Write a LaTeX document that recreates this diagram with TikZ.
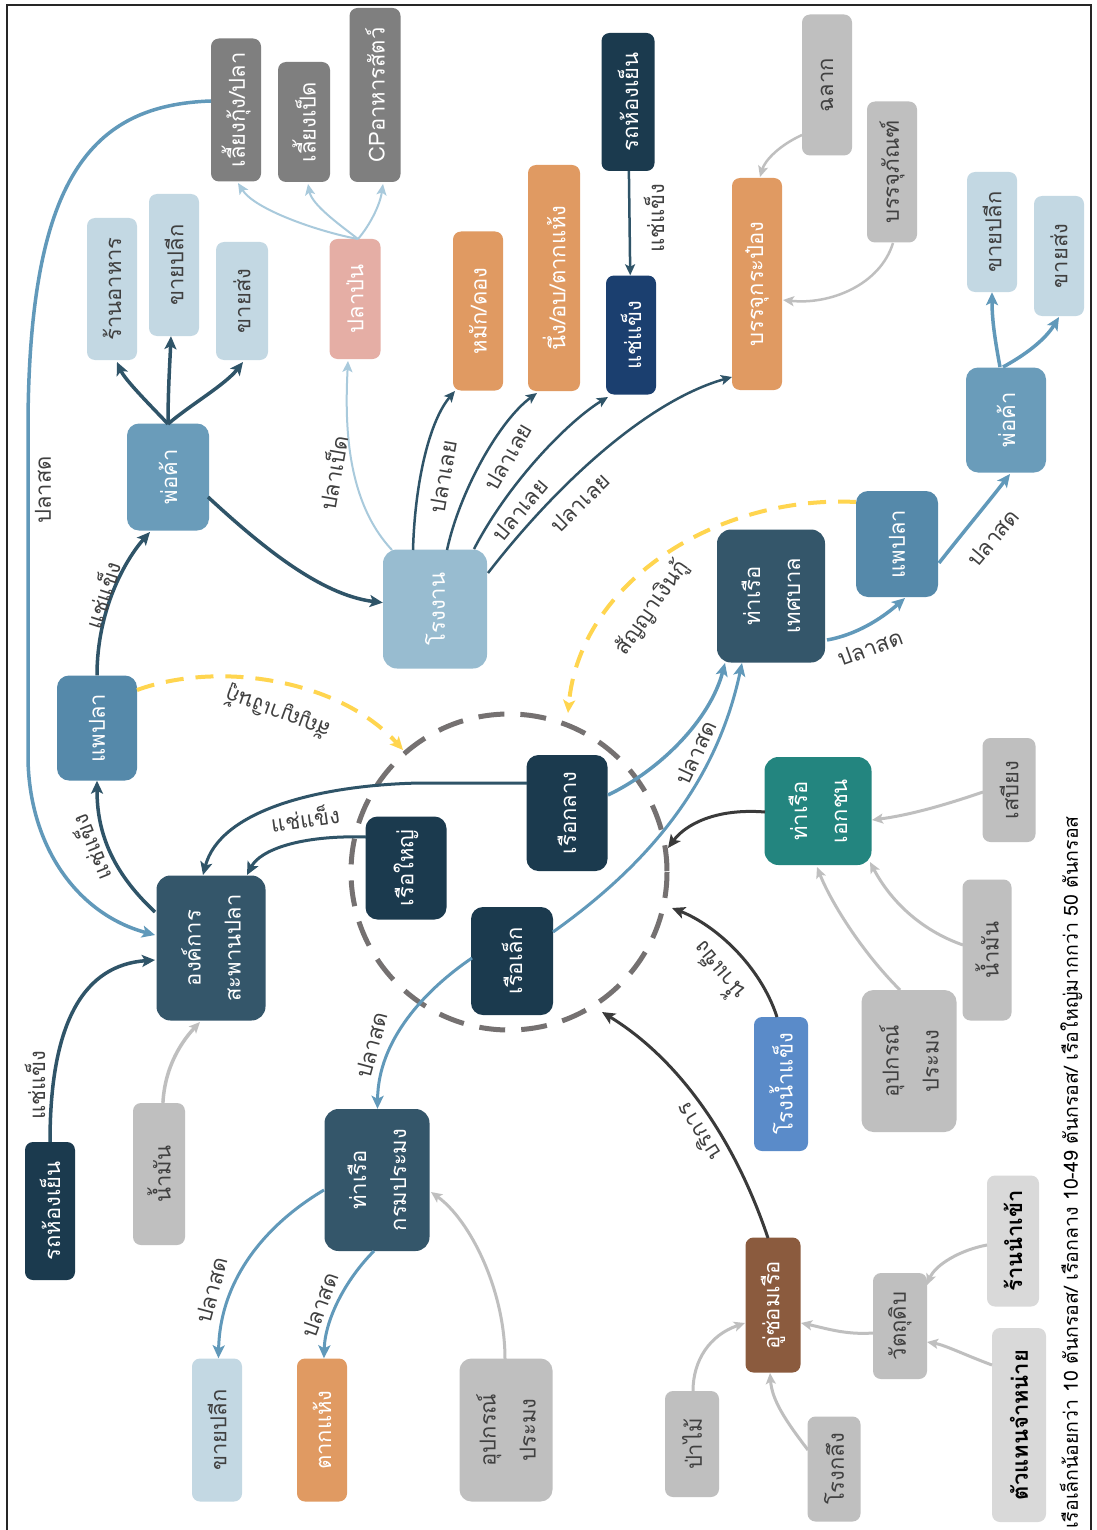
\documentclass[tikz,border=0pt]{standalone}
\usepackage{fontspec}
\setmainfont[Script=Thai]{Loma}
\newfontfamily\thai[Script=Thai]{Loma}
\usetikzlibrary{arrows.meta,calc}
\newcommand\myNodeFont{\thai\fontsize{22}{40}\selectfont}
\newcommand\myLblFont{\thai\fontsize{22}{26}\selectfont}
\newcommand\myFootFont{\thai\fontsize{19.5}{22}\selectfont}
\definecolor{cSlate}{HTML}{34566A}
\definecolor{cNavy}{HTML}{1B3A4E}
\definecolor{cFreeze}{HTML}{1B3F6F}
\definecolor{cPho}{HTML}{6A9CBA}
\definecolor{cPae}{HTML}{5589AA}
\definecolor{cLight}{HTML}{C3D8E3}
\definecolor{cFactory}{HTML}{98BCD0}
\definecolor{cOrange}{HTML}{E09A62}
\definecolor{cPink}{HTML}{E5AEA5}
\definecolor{cGrayD}{HTML}{7F7F7F}
\definecolor{cGrayL}{HTML}{BFBFBF}
\definecolor{cGrayLL}{HTML}{D9D9D9}
\definecolor{cTeal}{HTML}{23857F}
\definecolor{cIce}{HTML}{5A8BC9}
\definecolor{cBrown}{HTML}{8B5B3E}
\definecolor{eDark}{HTML}{2F5468}
\definecolor{eBlue}{HTML}{6199BA}
\definecolor{eLight}{HTML}{A9CADC}
\definecolor{eGray}{HTML}{BFBFBF}
\definecolor{eBlack}{HTML}{3A3A3A}
\definecolor{cYellow}{HTML}{FFD54F}
\definecolor{cCirc}{HTML}{757171}
\definecolor{tDark}{HTML}{404040}
\tikzset{
  box/.style={rounded corners=8pt, rotate=90, align=center, inner sep=1pt, font=\myNodeFont},
  sz/.style 2 args={minimum height=#1pt, minimum width=#2pt},
  wt/.style={text=white},
  dk/.style={text=tDark},
  lbl/.style={font=\myLblFont, text=tDark, inner sep=1pt},
  tip/.style={-{Stealth[length=13pt,width=12pt,inset=3pt]}},
  tips/.style={-{Stealth[length=11pt,width=10pt,inset=2.5pt]}},
  ed/.style={draw=eDark, line width=3.5pt, tip},
  edt/.style={draw=eDark, line width=2.5pt, tips},
  eb/.style={draw=eBlue, line width=3.5pt, tip},
  el/.style={draw=eLight, line width=2pt, tips},
  eg/.style={draw=eGray, line width=3pt, tips},
  ek/.style={draw=eBlack, line width=3pt, tip},
  ey/.style={draw=cYellow, line width=4pt, dash pattern=on 18pt off 12pt, -{Stealth[length=13pt,width=12pt,inset=3pt]}}
}
\begin{document}
\begin{tikzpicture}[x=1pt,y=-1pt]
\useasboundingbox (0,0) rectangle (1096,1530);
\fill[white] (0,0) rectangle (1096,1530);
\draw[line width=1.2pt, black!85] (7,1530) -- (7,5) -- (1091,5) -- (1091,1530);

% dashed circle of boats
\draw[cCirc, line width=5pt, dash pattern=on 26pt off 16pt] (509,872) circle[radius=158];
\coordinate (cP) at (668,848);
\coordinate (cI) at (672,908);
\coordinate (cD) at (602,1012);
\coordinate (yR) at (568,713);
\coordinate (yL) at (403,750);

% ---------- nodes ----------
\node[box, fill=cGrayD, wt, sz={50}{143}] (lieng) at (236,110) {เลี้ยงกุ้ง/ปลา};
\node[box, fill=cGrayD, wt, sz={52}{120}] (duck) at (304,122) {เลี้ยงเป็ด};
\node[box, fill=cGrayD, wt, sz={51}{174}] (cp) at (375,95) {CPอาหารสัตว์};
\node[box, fill=cLight, dk, sz={50}{142}] (rest) at (112,289) {ร้านอาหาร};
\node[box, fill=cLight, dk, sz={50}{142}] (retailA) at (174,265) {ขายปลีก};
\node[box, fill=cLight, dk, sz={52}{118}] (wholeA) at (242,301) {ขายส่ง};
\node[box, fill=cPink, wt, sz={51}{120}] (plapon) at (355,299) {ปลาป่น};
\node[box, rounded corners=12pt, fill=cPho, wt, sz={82}{107}] (phoA) at (168,477) {พ่อค้า};
\node[box, rounded corners=12pt, fill=cPae, wt, sz={80}{105}] (paeA) at (97,728) {แพปลา};
\node[box, rounded corners=14pt, fill=cFactory, wt, sz={104}{119}] (factory) at (435,609) {โรงงาน};
\node[box, fill=cOrange, wt, sz={50}{159}] (ferment) at (478,311) {หมัก/ดอง};
\node[box, fill=cOrange, wt, sz={52}{226}] (steam) at (554,278) {นึ่ง/อบ/ตากแห้ง};
\node[box, fill=cNavy, wt, sz={53}{138}] (coldT) at (628,102) {รถห้องเย็น};
\node[box, fill=cFreeze, wt, sz={50}{119}] (freeze) at (631,335) {แช่แข็ง};
\node[box, fill=cOrange, wt, sz={50}{212}] (can) at (757,284) {บรรจุกระป๋อง};
\node[box, fill=cGrayL, dk, sz={50}{141}] (labelbox) at (827,85) {ฉลาก};
\node[box, fill=cGrayL, dk, sz={50}{141}] (pack) at (892,172) {บรรจุภัณฑ์};
\node[box, fill=cLight, dk, sz={50}{120}] (retailB) at (992,232) {ขายปลีก};
\node[box, fill=cLight, dk, sz={50}{120}] (wholeB) at (1059,256) {ขายส่ง};
\node[box, rounded corners=12pt, fill=cPho, wt, sz={80}{105}] (phoB) at (1006,420) {พ่อค้า};
\node[box, rounded corners=12pt, fill=cPae, wt, sz={82}{106}] (paeB) at (897,544) {แพปลา};
\node[box, rounded corners=14pt, fill=cSlate, wt, sz={108}{133}] (terminal) at (771,596) {ท่าเรือ\\เทศบาล};
\node[box, rounded corners=12pt, fill=cNavy, wt, sz={81}{116}] (boatM) at (567,813) {เรือกลาง};
\node[box, rounded corners=12pt, fill=cNavy, wt, sz={81}{103}] (boatL) at (406,868) {เรือใหญ่};
\node[box, rounded corners=12pt, fill=cNavy, wt, sz={82}{108}] (boatS) at (512,961) {เรือเล็ก};
\node[box, rounded corners=14pt, fill=cTeal, wt, sz={107}{108}] (portP) at (818,811) {ท่าเรือ\\เอกชน};
\node[box, fill=cGrayL, dk, sz={53}{104}] (ration) at (1009,790) {เสบียง};
\node[box, fill=cGrayL, dk, sz={49}{141}] (oilR) at (987,950) {น้ำมัน};
\node[box, rounded corners=12pt, fill=cGrayL, dk, sz={95}{142}] (gearR) at (909,1061) {อุปกรณ์\\ประมง};
\node[box, fill=cIce, wt, sz={54}{134}] (ice) at (781,1084) {โรงน้ำแข็ง};
\node[box, rounded corners=14pt, fill=cSlate, wt, sz={109}{145}] (org) at (211,948) {องค์การ\\สะพานปลา};
\node[box, fill=cNavy, wt, sz={50}{138}] (coldB) at (50,1211) {รถห้องเย็น};
\node[box, fill=cGrayL, dk, sz={52}{142}] (oilL) at (159,1174) {น้ำมัน};
\node[box, rounded corners=14pt, fill=cSlate, wt, sz={105}{142}] (portG) at (377,1180) {ท่าเรือ\\กรมประมง};
\node[box, fill=cLight, dk, sz={50}{143}] (retailC) at (217,1430) {ขายปลีก};
\node[box, fill=cOrange, wt, sz={50}{143}] (dry) at (322,1430) {ตากแห้ง};
\node[box, rounded corners=12pt, fill=cGrayL, dk, sz={93}{143}] (gearB) at (506,1430) {อุปกรณ์\\ประมง};
\node[box, fill=cGrayL, dk, sz={54}{106}] (forest) at (692,1444) {ป่าไม้};
\node[box, fill=cBrown, wt, sz={55}{135}] (dock) at (773,1305) {อู่ซ่อมเรือ};
\node[box, fill=cGrayL, dk, sz={53}{105}] (lathe) at (834,1469) {โรงกลึง};
\node[box, fill=cGrayL, dk, sz={54}{106}] (raw) at (900,1326) {วัตถุดิบ};
\node[box, fill=cGrayLL, text=black, sz={52}{131}, font=\myNodeFont\bfseries] (import) at (1013,1241) {ร้านนำเข้า};
\node[box, fill=cGrayLL, text=black, sz={54}{194}, font=\myNodeFont\bfseries] (dealer) at (1019,1425) {ตัวแทนจำหน่าย};

\node[font=\myFootFont, text=black, rotate=90, anchor=west, inner sep=0pt] (foot) at (1071,1529) {เรือเล็กน้อยกว่า 10 ตันกรอส/ เรือกลาง 10-49 ตันกรอส/ เรือใหญ่มากกว่า 50 ตันกรอส};

% ---------- connectors ----------
\draw[eb] ($(lieng.center)+(-25,-9)$) .. controls (90,105) and (30,180) .. (28,420) -- (28,760) .. controls (30,850) and (80,915) .. ($(org.center)+(-56,-13)$);
\draw[ed] (coldB) .. controls (50,1020) and (85,965) .. ($(org.center)+(-56,12)$);
\draw[eg, line width=3.5pt] (oilL) .. controls (165,1065) and (183,1040) .. ($(org.center)+(-11,74)$);
\draw[ed] ($(org.center)+(-56,-36)$) .. controls (110,870) and (97,830) .. (paeA);
\draw[ed] (paeA) .. controls (97,610) and (125,560) .. ($(phoA.center)+(-18,55)$);
\draw[ed] ($(phoA.center)+(0,-53)$) .. controls (150,405) and (125,380) .. ($(rest.center)+(5,73)$);
\draw[ed] ($(phoA.center)+(0,-53)$) .. controls (168,390) and (170,360) .. (retailA);
\draw[ed] ($(phoA.center)+(0,-53)$) .. controls (190,405) and (225,385) .. ($(wholeA.center)+(1,61)$);
\draw[ed] ($(phoA.center)+(40,20)$) .. controls (260,545) and (320,595) .. (factory);
\draw[el] ($(factory.center)+(-43,-59)$) .. controls (345,500) and (345,420) .. ($(plapon.center)+(-7,62)$);
\draw[el] ($(plapon.center)+(3,-60)$) .. controls (320,232) and (255,210) .. ($(lieng.center)+(2,73)$);
\draw[el] ($(plapon.center)+(3,-60)$) .. controls (340,225) and (312,205) .. ($(duck.center)+(4,62)$);
\draw[el] ($(plapon.center)+(3,-60)$) .. controls (370,225) and (380,205) .. ($(cp.center)+(8,89)$);
\draw[edt] ($(factory.center)+(-22,-59)$) .. controls (415,480) and (430,420) .. ($(ferment.center)+(-23,80)$);
\draw[edt] ($(factory.center)+(12,-59)$) .. controls (460,490) and (500,420) .. ($(steam.center)+(-17,115)$);
\draw[edt] ($(factory.center)+(39,-60)$) .. controls (510,480) and (570,420) .. ($(freeze.center)+(-23,62)$);
\draw[edt] ($(factory.center)+(53,-36)$) .. controls (560,480) and (650,400) .. ($(can.center)+(-25,93)$);
\draw[edt] (coldT) -- (freeze);
\draw[eg, line width=2.5pt] ($(labelbox.center)+(-25,50)$) .. controls (780,145) and (765,160) .. ($(can.center)+(3,-107)$);
\draw[eg, line width=2.5pt] ($(pack.center)+(1,71)$) .. controls (880,285) and (830,305) .. ($(can.center)+(26,16)$);
\draw[eb] ($(paeB.center)+(42,19)$) .. controls (965,530) and (990,500) .. ($(phoB.center)+(4,54)$);
\draw[eb] ($(phoB.center)+(-6,-53)$) .. controls (995,340) and (992,320) .. (retailB);
\draw[eb] ($(phoB.center)+(-3,-53)$) .. controls (1025,355) and (1045,340) .. ($(wholeB.center)+(0,61)$);
\draw[eb] ($(terminal.center)+(56,44)$) .. controls (855,635) and (880,620) .. ($(paeB.center)+(8,54)$);
\draw[ey] ($(paeB.center)+(-41,-42)$) .. controls (720,495) and (580,580) .. (yR);
\draw[ey] ($(paeA.center)+(40,-38)$) .. controls (220,660) and (340,680) .. (yL);
\draw[ed, line width=3pt] ($(boatM.center)+(-40,-30)$) -- (420,783) .. controls (320,785) and (220,810) .. ($(org.center)+(-8,-73)$);
\draw[ed, line width=3pt] ($(boatL.center)+(-40,-31)$) .. controls (300,835) and (260,850) .. ($(org.center)+(36,-73)$);
\draw[eb] ($(boatM.center)+(41,-18)$) .. controls (660,770) and (710,720) .. ($(terminal.center)+(-46,67)$);
\draw[eb, line width=3pt] ($(boatS.center)+(41,-29)$) .. controls (640,870) and (715,790) .. ($(terminal.center)+(-29,67)$);
\draw[eb, line width=3pt] ($(boatS.center)+(-40,-3)$) .. controls (425,990) and (378,1040) .. (portG);
\draw[ek] ($(portP.center)+(-53,1)$) .. controls (715,808) and (685,825) .. (cP);
\draw[ek] ($(ice.center)+(-4,-67)$) .. controls (760,965) and (715,925) .. (cI);
\draw[ek] ($(dock.center)+(-5,-67)$) .. controls (735,1140) and (680,1060) .. (cD);
\draw[eg] ($(forest.center)+(1,-53)$) .. controls (693,1360) and (710,1335) .. ($(dock.center)+(-28,18)$);
\draw[eg] ($(lathe.center)+(-26,-19)$) .. controls (785,1420) and (772,1400) .. ($(dock.center)+(-3,68)$);
\draw[eg] ($(raw.center)+(-27,7)$) .. controls (845,1335) and (825,1328) .. ($(dock.center)+(28,18)$);
\draw[eg] ($(import.center)+(-26,4)$) .. controls (960,1250) and (935,1265) .. ($(raw.center)+(27,-41)$);
\draw[eg] ($(dealer.center)+(-27,-60)$) .. controls (965,1355) and (945,1345) .. ($(raw.center)+(27,16)$);
\draw[eg] ($(ration.center)+(-26,2)$) .. controls (945,805) and (910,815) .. ($(portP.center)+(54,9)$);
\draw[eg] ($(oilR.center)+(-24,-5)$) .. controls (920,930) and (890,900) .. ($(portP.center)+(52,51)$);
\draw[eg] ($(gearR.center)+(-9,-71)$) .. controls (860,950) and (830,900) .. ($(portP.center)+(-1,56)$);
\draw[eb, line width=3pt] ($(portG.center)+(-53,10)$) .. controls (265,1225) and (220,1280) .. (retailC);
\draw[eb, line width=3pt] ($(portG.center)+(-3,71)$) .. controls (345,1280) and (325,1320) .. (dry);
\draw[eg] ($(gearB.center)+(-1,-71)$) .. controls (505,1290) and (470,1220) .. ($(portG.center)+(54,12)$);

% ---------- labels ----------
\node[lbl, rotate=90] (l1) at (43,490) {ปลาสด};
\node[lbl, rotate=90] (l2) at (35,1085) {แช่แข็ง};
\node[lbl, rotate=112] (l3) at (90,848) {แช่แข็ง};
\node[lbl, rotate=72] (l4) at (102,595) {แช่แข็ง};
\node[lbl, rotate=80] (l5) at (332,473) {ปลาเป็ด};
\node[lbl, rotate=80] (l6) at (443,477) {ปลาเลย};
\node[lbl, rotate=60] (l7) at (508,457) {ปลาเลย};
\node[lbl, rotate=50] (l8) at (520,510) {ปลาเลย};
\node[lbl, rotate=45] (l9) at (580,503) {ปลาเลย};
\node[lbl, rotate=90] (l10) at (654,218) {แช่แข็ง};
\node[lbl, rotate=50] (l11) at (993,538) {ปลาสด};
\node[lbl, rotate=20] (l12) at (870,648) {ปลาสด};
\node[lbl, rotate=55] (l13) at (652,608) {สัญญาเงินกู้};
\node[lbl, rotate=160] (l14) at (278,712) {สัญญาเงินกู้};
\node[lbl, rotate=8] (l15) at (305,818) {แช่แข็ง};
\node[lbl, rotate=75] (l16) at (372,1045) {ปลาสด};
\node[lbl, rotate=65] (l17) at (696,753) {ปลาสด};
\node[lbl, rotate=130] (l18) at (717,973) {น้ำแข็ง};
\node[lbl, rotate=122] (l19) at (698,1132) {บริการ};
\node[lbl, rotate=75] (l20) at (212,1290) {ปลาสด};
\node[lbl, rotate=70] (l21) at (320,1305) {ปลาสด};
\end{tikzpicture}
\end{document}
